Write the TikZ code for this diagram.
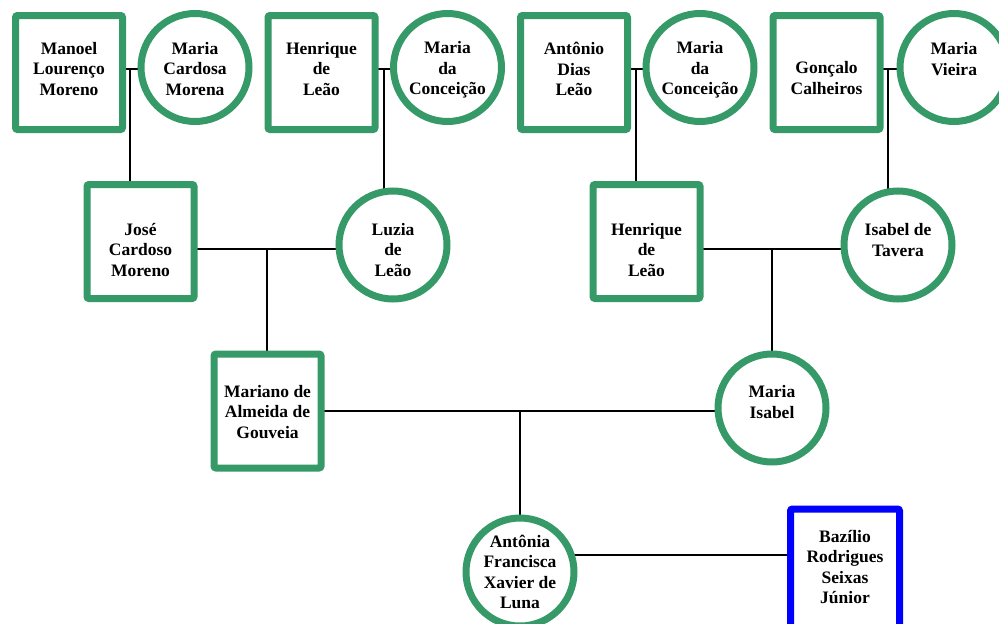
\documentclass[tikz,border=0pt]{standalone}
\usepackage{fontspec}
\setmainfont{Liberation Serif}
\usetikzlibrary{backgrounds}
\definecolor{famgreen}{RGB}{54,153,104}
\definecolor{famblue}{RGB}{0,0,255}
\begin{document}
\begin{tikzpicture}[x=1pt,y=-1pt,
  male/.style={rectangle,draw=famgreen,fill=white,line width=7pt,rounded corners=2pt,
    minimum width=107pt,minimum height=114pt,inner sep=0pt},
  spouse/.style={male,draw=famblue,minimum width=109pt,minimum height=124pt},
  female/.style={circle,draw=famgreen,fill=white,line width=7pt,minimum size=108pt,inner sep=0pt},
  nm/.style={align=center,inner sep=0pt,font=\fontsize{17.5}{20.5}\selectfont\bfseries},
  link/.style={line width=2.8pt,black}]
\useasboundingbox (0,0) rectangle (999,624);

% first generation
\node[male]   (manoel) at (69,72.5) {};
\node[female] (mcard)  at (195,67.5) {};
\node[male]   (henr1)  at (321.5,72.5) {};
\node[female] (mconc1) at (447.5,67.5) {};
\node[male]   (anton)  at (574,72.5) {};
\node[female] (mconc2) at (700,67.5) {};
\node[male]   (gonc)   at (826.5,72.5) {};
\node[female] (mvie)   at (954,67.5) {};

% second generation
\node[male]   (jose)   at (140.5,241.5) {};
\node[female] (luzia)  at (393,245) {};
\node[male]   (henr2)  at (646.5,241.5) {};
\node[female] (isabel) at (898,245) {};

% third generation
\node[male]   (mariano) at (267.5,411) {};
\node[female] (misabel) at (772,408) {};

% fourth generation
\node[female] (antonia) at (520,572) {};
\node[spouse] (bazilio) at (845,571) {};

% names
\node[nm] at (69,69)    {Manoel\\Lourenço\\Moreno};
\node[nm] at (195,69)   {Maria\\Cardosa\\Morena};
\node[nm] at (321.5,69) {Henrique\\de\\Leão};
\node[nm] at (447.5,70) {Maria\\da\\Conceição};
\node[nm] at (574,69)   {Antônio\\Dias\\Leão};
\node[nm] at (700,70)   {Maria\\da\\Conceição};
\node[nm] at (826.5,78) {Gonçalo\\Calheiros};
\node[nm] at (954,59)   {Maria\\Vieira};
\node[nm] at (140.5,250) {José\\Cardoso\\Moreno};
\node[nm] at (393,250)   {Luzia\\de\\Leão};
\node[nm] at (646.5,250) {Henrique\\de\\Leão};
\node[nm] at (898,240)   {Isabel de\\Tavera};
\node[nm] at (267.5,412) {Mariano de\\Almeida de\\Gouveia};
\node[nm] at (772,402)   {Maria\\Isabel};
\node[nm] at (520,572)   {Antônia\\Francisca\\Xavier de\\Luna};
\node[nm] at (845,567)   {Bazílio\\Rodrigues\\Seixas\\Júnior};

% marriage junctions
\coordinate (c1) at (130,69);
\coordinate (c2) at (384,69);
\coordinate (c3) at (636,69);
\coordinate (c4) at (888,69);
\coordinate (c5) at (267,249);
\coordinate (c6) at (772,249);
\coordinate (c7) at (520,411);
\coordinate (c8) at (680,555);

\begin{pgfonlayer}{background}
  \draw[link] (manoel |- c1) -- (mcard |- c1);
  \draw[link] (c1) -- (c1 |- jose);
  \draw[link] (henr1 |- c2) -- (mconc1 |- c2);
  \draw[link] (c2) -- (c2 |- luzia);
  \draw[link] (anton |- c3) -- (mconc2 |- c3);
  \draw[link] (c3) -- (c3 |- henr2);
  \draw[link] (gonc |- c4) -- (mvie |- c4);
  \draw[link] (c4) -- (c4 |- isabel);
  \draw[link] (jose |- c5) -- (luzia |- c5);
  \draw[link] (c5) -- (c5 |- mariano);
  \draw[link] (henr2 |- c6) -- (isabel |- c6);
  \draw[link] (c6) -- (c6 |- misabel);
  \draw[link] (mariano |- c7) -- (misabel |- c7);
  \draw[link] (c7) -- (c7 |- antonia);
  \draw[link] (antonia |- c8) -- (bazilio |- c8);
\end{pgfonlayer}
\end{tikzpicture}
\end{document}
